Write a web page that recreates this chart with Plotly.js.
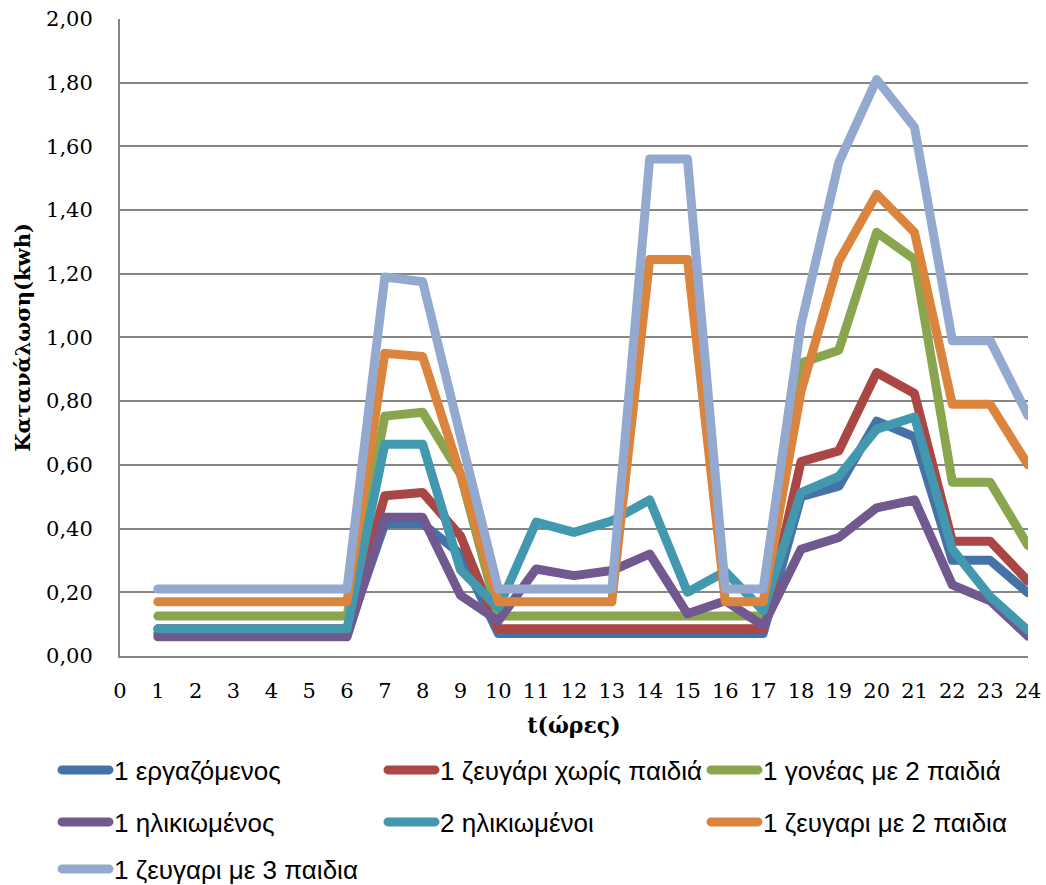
<!DOCTYPE html>
<html>
<head>
<meta charset="utf-8">
<script src="https://cdn.plot.ly/plotly-3.0.1.min.js"></script>
<style>
  html, body { margin: 0; padding: 0; background: #ffffff; }
  #chart { width: 1046px; height: 885px; }
  .js-line { stroke-linejoin: round; stroke-linecap: round; }
  .legendlines path { stroke-linecap: round; }
</style>
</head>
<body>
<div id="chart"></div>
<script>
// Hourly electricity consumption (kWh) per household type
const hours = [1,2,3,4,5,6,7,8,9,10,11,12,13,14,15,16,17,18,19,20,21,22,23,24];

const seriesNames = [
  '1 εργαζόμενος',
  '1 ζευγάρι χωρίς παιδιά',
  '1 γονέας με 2 παιδιά',
  '1 ηλικιωμένος',
  '2 ηλικιωμένοι',
  '1 ζευγαρι με 2 παιδια',
  '1 ζευγαρι με 3 παιδια'
];

const seriesColors = ['#4572A7', '#AA4643', '#89A54E', '#71588F', '#4198AF', '#DB843D', '#93A9CF'];

const ergazomenos   = [0.07,0.07,0.07,0.07,0.07,0.07,0.415,0.415,0.32,0.07,0.07,0.07,0.07,0.07,0.07,0.07,0.07,0.50,0.533,0.737,0.688,0.30,0.30,0.198];
const zeugariXoris  = [0.085,0.085,0.085,0.085,0.085,0.085,0.503,0.513,0.377,0.085,0.085,0.085,0.085,0.085,0.085,0.085,0.085,0.61,0.644,0.89,0.824,0.36,0.36,0.235];
const goneas2       = [0.125,0.125,0.125,0.125,0.125,0.125,0.753,0.765,0.57,0.125,0.125,0.125,0.125,0.125,0.125,0.125,0.125,0.92,0.96,1.33,1.245,0.545,0.545,0.347];
const hlikiwmenos   = [0.06,0.06,0.06,0.06,0.06,0.06,0.435,0.435,0.19,0.11,0.273,0.252,0.268,0.32,0.132,0.173,0.095,0.335,0.372,0.465,0.49,0.223,0.173,0.062];
const hlikiwmenoi2  = [0.085,0.085,0.085,0.085,0.085,0.085,0.665,0.665,0.27,0.15,0.42,0.388,0.424,0.49,0.20,0.265,0.142,0.513,0.564,0.712,0.75,0.335,0.186,0.08];
const zeugari2      = [0.17,0.17,0.17,0.17,0.17,0.17,0.95,0.94,0.57,0.17,0.17,0.17,0.17,1.245,1.245,0.17,0.17,0.83,1.24,1.45,1.33,0.79,0.79,0.60];
const zeugari3      = [0.21,0.21,0.21,0.21,0.21,0.21,1.19,1.175,0.69,0.21,0.21,0.21,0.21,1.56,1.56,0.21,0.21,1.04,1.55,1.81,1.66,0.99,0.99,0.755];

const seriesValues = [ergazomenos, zeugariXoris, goneas2, hlikiwmenos, hlikiwmenoi2, zeugari2, zeugari3];

// Legend grid: three columns, three rows; one legend box per entry
const legendColumnsPx = [57, 383, 706];
const legendRowsPx = [770, 822, 869];
const legendIds = ['legend', 'legend2', 'legend3', 'legend4', 'legend5', 'legend6', 'legend7'];

const traces = seriesValues.map((vals, i) => ({
  type: 'scatter',
  mode: 'lines',
  x: hours,
  y: vals,
  name: seriesNames[i],
  legend: legendIds[i],
  line: { color: seriesColors[i], width: 9 },
  hoverinfo: 'x+y+name'
}));

const legendFont = { family: 'Liberation Sans, Arial, sans-serif', size: 26, color: '#000000' };
function legendBox(i) {
  const col = i % 3, row = Math.floor(i / 3);
  return {
    orientation: 'h',
    xref: 'container', yref: 'container',
    x: legendColumnsPx[col] / 1046,
    y: 1 - legendRowsPx[row] / 885,
    xanchor: 'left', yanchor: 'middle',
    itemwidth: 47,
    font: legendFont,
    bgcolor: 'rgba(0,0,0,0)',
    borderwidth: 0
  };
}

const layout = {
  width: 1046,
  height: 885,
  separators: ',.',
  paper_bgcolor: '#ffffff',
  plot_bgcolor: '#ffffff',
  margin: { l: 120, r: 18, t: 19, b: 228, pad: 0 },
  showlegend: true,
  xaxis: {
    range: [0, 24],
    tickmode: 'linear', tick0: 0, dtick: 1,
    showgrid: false,
    zeroline: false,
    showline: true, linecolor: '#868686', linewidth: 2,
    ticks: '',
    ticklabelstandoff: 15,
    tickfont: { family: 'DejaVu Serif, serif', size: 21, color: '#000000' },
    automargin: 'bottom',
    title: {
      text: 't(ώρες)',
      font: { family: 'DejaVu Serif, serif', size: 22, color: '#000000', weight: 'bold' },
      standoff: 16
    },
    fixedrange: true
  },
  yaxis: {
    range: [0, 2],
    tickmode: 'linear', tick0: 0, dtick: 0.2,
    tickformat: '.2f',
    showgrid: true, gridcolor: '#868686', gridwidth: 2,
    zeroline: false,
    showline: true, linecolor: '#868686', linewidth: 2,
    ticks: '',
    ticklabelstandoff: 21,
    tickfont: { family: 'DejaVu Serif, serif', size: 21, color: '#000000' },
    automargin: 'left',
    title: {
      text: 'Κατανάλωση(kwh)',
      font: { family: 'DejaVu Serif, serif', size: 21, color: '#000000', weight: 'bold' },
      standoff: 10
    },
    fixedrange: true
  }
};
legendIds.forEach((id, i) => { layout[id] = legendBox(i); });

Plotly.newPlot('chart', traces, layout, { displayModeBar: false, staticPlot: true });
</script>
</body>
</html>
